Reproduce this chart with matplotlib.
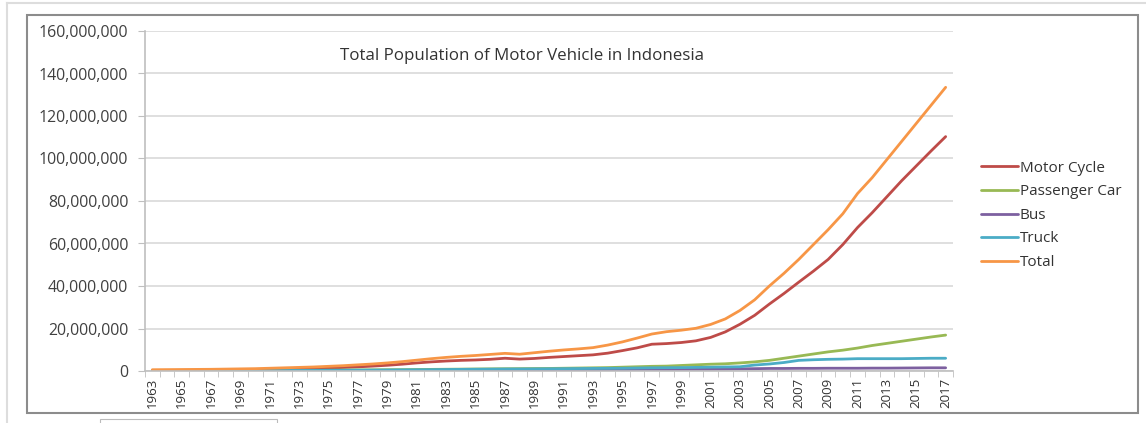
import matplotlib.pyplot as plt
from matplotlib.patches import Rectangle
from matplotlib.lines import Line2D
import matplotlib.ticker as mticker
import numpy as np

plt.rcParams['font.family'] = ['Open Sans', 'DejaVu Sans']

years = list(range(1963, 2018))

# values in millions
motor_cycle = [0.25, 0.28, 0.3, 0.33, 0.37, 0.42, 0.5, 0.58, 0.7, 0.85,
               1.0, 1.2, 1.4, 1.65, 1.95, 2.3, 2.7, 3.2, 3.8, 4.3,
               4.7, 5.0, 5.2, 5.5, 6.0, 5.6, 5.9, 6.4, 6.8, 7.2,
               7.6, 8.4, 9.6, 10.9, 12.6, 12.9, 13.4, 14.2, 15.8, 18.4,
               22.0, 26.2, 31.5, 36.5, 41.8, 47.0, 52.5, 59.5, 67.5, 74.5,
               82.0, 89.5, 96.5, 103.5, 110.3]
passenger_car = [0.15, 0.16, 0.17, 0.18, 0.19, 0.2, 0.22, 0.24, 0.26, 0.29,
                 0.32, 0.36, 0.4, 0.45, 0.5, 0.55, 0.6, 0.64, 0.7, 0.76,
                 0.82, 0.88, 0.94, 1.0, 1.06, 1.1, 1.15, 1.2, 1.3, 1.4,
                 1.5, 1.6, 1.8, 2.0, 2.2, 2.3, 2.6, 2.9, 3.2, 3.4,
                 3.8, 4.3, 5.0, 6.0, 7.0, 8.0, 9.0, 9.8, 10.8, 12.0,
                 13.0, 14.0, 15.0, 16.0, 16.9]
bus = [0.02, 0.02, 0.03, 0.03, 0.04, 0.04, 0.05, 0.06, 0.07, 0.08,
       0.09, 0.1, 0.12, 0.14, 0.16, 0.18, 0.2, 0.23, 0.26, 0.3,
       0.33, 0.36, 0.4, 0.43, 0.46, 0.48, 0.52, 0.56, 0.6, 0.62,
       0.64, 0.66, 0.68, 0.7, 0.7, 0.7, 0.72, 0.75, 0.8, 0.9,
       1.0, 1.1, 1.2, 1.2, 1.25, 1.25, 1.3, 1.3, 1.3, 1.35,
       1.35, 1.4, 1.45, 1.5, 1.5]
truck = [0.1, 0.1, 0.11, 0.12, 0.13, 0.14, 0.15, 0.17, 0.19, 0.21,
         0.24, 0.27, 0.3, 0.34, 0.38, 0.42, 0.47, 0.52, 0.58, 0.64,
         0.7, 0.76, 0.82, 0.88, 0.94, 0.96, 1.0, 1.05, 1.1, 1.15,
         1.2, 1.25, 1.3, 1.4, 1.5, 1.55, 1.6, 1.7, 1.8, 1.9,
         2.0, 2.8, 3.3, 4.0, 5.0, 5.3, 5.5, 5.6, 5.8, 5.8,
         5.8, 5.8, 5.9, 6.0, 6.0]
total = [0.6, 0.65, 0.7, 0.75, 0.8, 0.9, 1.0, 1.1, 1.3, 1.5,
         1.7, 1.9, 2.2, 2.5, 2.9, 3.3, 3.8, 4.4, 5.1, 5.8,
         6.4, 6.9, 7.3, 7.8, 8.3, 7.9, 8.6, 9.3, 9.9, 10.4,
         11.0, 12.2, 13.7, 15.5, 17.4, 18.5, 19.2, 20.1, 21.9, 24.5,
         28.5, 33.5, 40.0, 46.0, 52.5, 59.5, 66.5, 74.0, 83.5, 91.0,
         99.5, 108.0, 116.5, 125.0, 133.5]

series = [
    ("Motor Cycle", motor_cycle, "#BE4B48"),
    ("Passenger Car", passenger_car, "#98B954"),
    ("Bus", bus, "#7D60A0"),
    ("Truck", truck, "#4BACC6"),
    ("Total", total, "#F79646"),
]

fig = plt.figure(figsize=(11.46, 4.23), dpi=100)
ax = fig.add_axes([145 / 1146, 52 / 423, 808 / 1146, 340 / 423])

x = np.arange(len(years))
for name, vals, col in series:
    ax.plot(x, np.array(vals) * 1e6, color=col, lw=2.0, label=name,
            solid_capstyle='round')

ax.set_xlim(-0.5, len(years) - 0.5)
ax.set_ylim(0, 160e6)
ax.set_yticks(np.arange(0, 160e6 + 1, 20e6))
ax.yaxis.set_major_formatter(mticker.FuncFormatter(lambda v, p: f"{int(v):,}"))
ax.set_xticks(x[::2])
ax.set_xticklabels([str(y) for y in years[::2]], rotation=90)
ax.set_xticks(np.arange(-0.5, len(years), 1), minor=True)
ax.tick_params(axis='x', which='major', length=0, pad=5, labelsize=9.5, colors='#333333')
ax.tick_params(axis='x', which='minor', length=4, color='#BFBFBF')
ax.tick_params(axis='y', length=5, color='#BFBFBF', labelsize=11.4, colors='#404040', pad=7)

ax.yaxis.grid(True, color='#D9D9D9', lw=1.2)
ax.set_axisbelow(True)
for s in ['top', 'right']:
    ax.spines[s].set_visible(False)
ax.spines['left'].set_color('#BFBFBF')
ax.spines['bottom'].set_color('#BFBFBF')
ax.spines['left'].set_linewidth(1.2)
ax.spines['bottom'].set_linewidth(1.2)

fig.text(522 / 1146, 1 - 56 / 423, "Total Population of Motor Vehicle in Indonesia",
         ha='center', va='center', fontsize=12.2, color='#333333')

fig.legend(loc='upper left', bbox_to_anchor=(967 / 1146, 1 - 147 / 423),
           frameon=False, fontsize=11, handlelength=2.45, handletextpad=0.1,
           labelspacing=0.56, labelcolor='#333333')

# chart frame and screenshot edges
fig.patches.append(Rectangle((27 / 1146, 1 - 413 / 423), 1111 / 1146, 398 / 423,
                             transform=fig.transFigure, fill=False,
                             edgecolor='#8C8C8C', lw=1.5))
fig.lines.append(Line2D([7 / 1146, 1], [1 - 3 / 423, 1 - 3 / 423],
                        transform=fig.transFigure, color='#DDDDDD', lw=1.5))
fig.lines.append(Line2D([7 / 1146, 7 / 1146], [0, 1 - 3 / 423],
                        transform=fig.transFigure, color='#DDDDDD', lw=1.5))
fig.patches.append(Rectangle((100 / 1146, -0.01), 177 / 1146, 8 / 423,
                             transform=fig.transFigure, fill=False,
                             edgecolor='#BBBBBB', lw=0.8))

plt.savefig('out.png', dpi=100)
plt.close()
